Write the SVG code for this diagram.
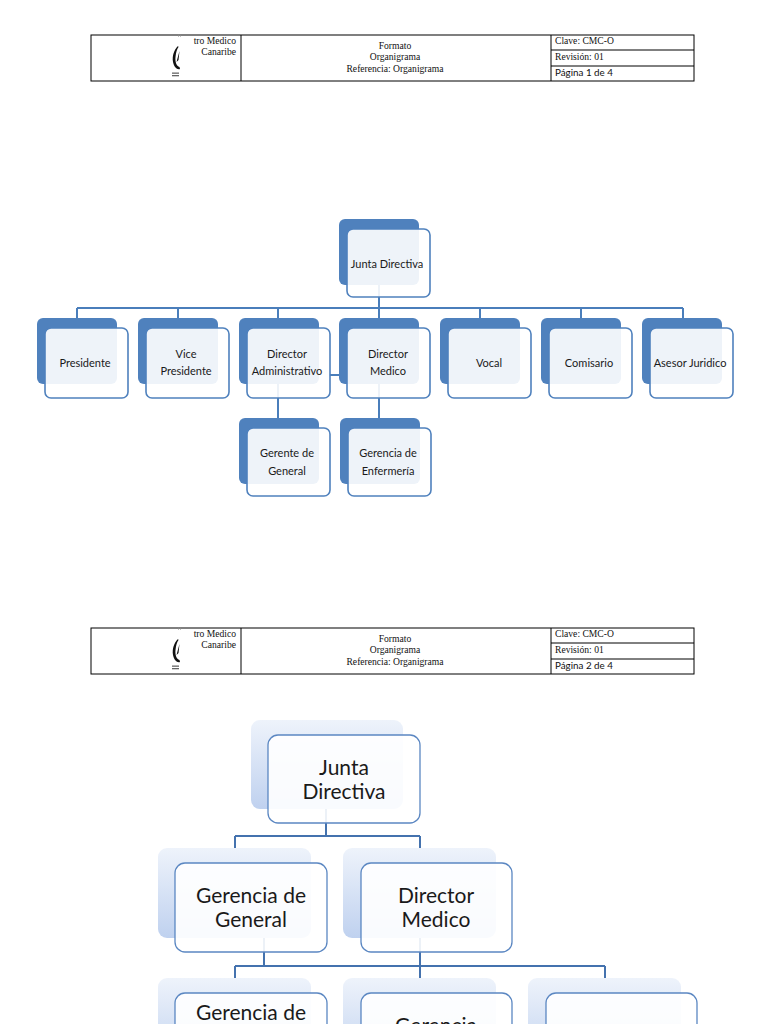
<svg xmlns="http://www.w3.org/2000/svg" width="768" height="1024" viewBox="0 0 768 1024">
<defs>
<style>
.hdr{fill:none;stroke:#000;stroke-width:1}
.serif{font-family:"Liberation Serif","DejaVu Serif",serif;font-size:9.6px;fill:#111}
.pg{font-family:Lato,"Noto Sans",sans-serif;font-size:9.8px;fill:#111}
.b1{fill:#4F81BD}
.f1{fill:#fff;fill-opacity:0.9;stroke:#4F81BD;stroke-width:1.6}
.t1{font-family:Lato,"Noto Sans",sans-serif;font-size:11px;fill:#1a1a1a;text-anchor:middle}
.c1{fill:none;stroke:#4A7EBB;stroke-width:2}
.b2{fill:url(#g2)}
.f2{fill:#fff;fill-opacity:0.9;stroke:#5B87C2;stroke-width:1.3}
.t2{font-family:Lato,"Noto Sans",sans-serif;font-size:21px;fill:#1a1a1a;text-anchor:middle}
.c2{fill:none;stroke:#4472AE;stroke-width:2}
</style>
<linearGradient id="g2" x1="0" y1="0" x2="0" y2="1">
<stop offset="0" stop-color="#EEF3FB"/>
<stop offset="1" stop-color="#BFD1EF"/>
</linearGradient>
<g id="header">
<rect class="hdr" x="91" y="35" width="603" height="46"/>
<line class="hdr" x1="241" y1="35" x2="241" y2="81"/>
<line class="hdr" x1="551" y1="35" x2="551" y2="81"/>
<line class="hdr" x1="551" y1="50" x2="694" y2="50"/>
<line class="hdr" x1="551" y1="66" x2="694" y2="66"/>
<path d="M178 46 C174 50 172 56 173 62 C174 67 177 70 180 69 L179.5 67 C176.5 66 175 62 175.5 57 C176 52 177 49 178.5 47 Z M176.5 62 L179.5 51 L178.5 60 Z" fill="#111"/>
<rect x="172" y="72.5" width="7" height="1.3" fill="#666"/>
<rect x="172" y="75" width="7" height="1.3" fill="#666"/>
<rect x="178" y="34.5" width="1" height="2" fill="#888"/>
<rect x="180" y="34.5" width="1" height="2" fill="#888"/>
<text class="serif" x="236" y="44" text-anchor="end">tro Medico</text>
<text class="serif" x="236" y="55" text-anchor="end">Canaribe</text>
<text class="serif" x="395" y="49" text-anchor="middle">Formato</text>
<text class="serif" x="395" y="60" text-anchor="middle">Organigrama</text>
<text class="serif" x="395" y="72" text-anchor="middle">Referencia: Organigrama</text>
<text class="serif" x="555" y="44">Clave: CMC-O</text>
<text class="serif" x="555" y="60">Revisión: 01</text>
</g>
</defs>

<g id="header1">
<use href="#header"/>
<text class="pg" x="555" y="76">Página 1 de 4</text>
</g>
<g id="header2" transform="translate(0,593)">
<use href="#header"/>
<text class="pg" x="555" y="76">Página 2 de 4</text>
</g>

<g id="connectors-top">
<path class="c1" d="M379 285 V308 M77 308 H683 M77 308 V318 M178 308 V318 M278 308 V318 M379 308 V318 M480 308 V318 M581 308 V318 M683 308 V318"/>
<path class="c1" d="M278 384 V418 M379 384 V418 M329 375 H340"/>
</g>

<g id="n-junta1"><rect class="b1" x="339" y="219" width="80" height="66" rx="6"/><rect class="f1" x="347" y="229" width="83" height="68" rx="6"/><text class="t1" x="387" y="268">Junta Directiva</text></g>
<g id="n-presidente"><rect class="b1" x="37" y="318" width="80" height="66" rx="6"/><rect class="f1" x="45" y="328" width="83" height="70" rx="6"/><text class="t1" x="85" y="367">Presidente</text></g>
<g id="n-vice"><rect class="b1" x="138" y="318" width="80" height="66" rx="6"/><rect class="f1" x="146" y="328" width="83" height="70" rx="6"/><text class="t1" x="186" y="358">Vice</text><text class="t1" x="186" y="375">Presidente</text></g>
<g id="n-diradm"><rect class="b1" x="239" y="318" width="80" height="66" rx="6"/><rect class="f1" x="247" y="328" width="83" height="70" rx="6"/><text class="t1" x="287" y="358">Director</text><text class="t1" x="287" y="375">Administrativo</text></g>
<g id="n-dirmed1"><rect class="b1" x="339" y="318" width="80" height="66" rx="6"/><rect class="f1" x="347" y="328" width="83" height="70" rx="6"/><text class="t1" x="388" y="358">Director</text><text class="t1" x="388" y="375">Medico</text></g>
<g id="n-vocal"><rect class="b1" x="440" y="318" width="80" height="66" rx="6"/><rect class="f1" x="448" y="328" width="83" height="70" rx="6"/><text class="t1" x="489" y="367">Vocal</text></g>
<g id="n-comisario"><rect class="b1" x="541" y="318" width="80" height="66" rx="6"/><rect class="f1" x="549" y="328" width="83" height="70" rx="6"/><text class="t1" x="589" y="367">Comisario</text></g>
<g id="n-asesor"><rect class="b1" x="642" y="318" width="80" height="66" rx="6"/><rect class="f1" x="650" y="328" width="83" height="70" rx="6"/><text class="t1" x="690" y="367">Asesor Juridico</text></g>
<g id="n-gerente"><rect class="b1" x="239" y="418" width="80" height="66" rx="6"/><rect class="f1" x="247" y="428" width="83" height="68" rx="6"/><text class="t1" x="287" y="457">Gerente de</text><text class="t1" x="287" y="475">General</text></g>
<g id="n-enfermeria1"><rect class="b1" x="340" y="418" width="80" height="66" rx="6"/><rect class="f1" x="348" y="428" width="83" height="68" rx="6"/><text class="t1" x="388" y="457">Gerencia de</text><text class="t1" x="388" y="475">Enfermería</text></g>

<g id="connectors-bottom">
<path class="c2" d="M326 809 V836 M235 836 H420 M235 836 V848 M420 836 V848"/>
<path class="c2" d="M264 938 V966 M420 938 V978 M235 966 H605 M235 966 V978 M605 966 V978"/>
</g>

<g id="n-junta2"><rect class="b2" x="251" y="720" width="152" height="89" rx="9"/><rect class="f2" x="268" y="735" width="152" height="88" rx="10"/><text class="t2" x="344" y="775">Junta</text><text class="t2" x="344" y="799">Directiva</text></g>
<g id="n-gergen2"><rect class="b2" x="158" y="848" width="153" height="90" rx="9"/><rect class="f2" x="175" y="863" width="152" height="89" rx="10"/><text class="t2" x="251" y="903">Gerencia de</text><text class="t2" x="251" y="927">General</text></g>
<g id="n-dirmed2"><rect class="b2" x="343" y="848" width="153" height="90" rx="9"/><rect class="f2" x="361" y="863" width="151" height="89" rx="10"/><text class="t2" x="436" y="903">Director</text><text class="t2" x="436" y="927">Medico</text></g>
<g id="n-row3a"><rect class="b2" x="158" y="978" width="153" height="90" rx="9"/><rect class="f2" x="175" y="993" width="152" height="89" rx="10"/><text class="t2" x="251" y="1020">Gerencia de</text></g>
<g id="n-row3b"><rect class="b2" x="343" y="978" width="153" height="90" rx="9"/><rect class="f2" x="361" y="993" width="151" height="89" rx="10"/><text class="t2" x="436" y="1033">Gerencia</text></g>
<g id="n-row3c"><rect class="b2" x="528" y="978" width="153" height="90" rx="9"/><rect class="f2" x="546" y="993" width="151" height="89" rx="10"/></g>
</svg>
